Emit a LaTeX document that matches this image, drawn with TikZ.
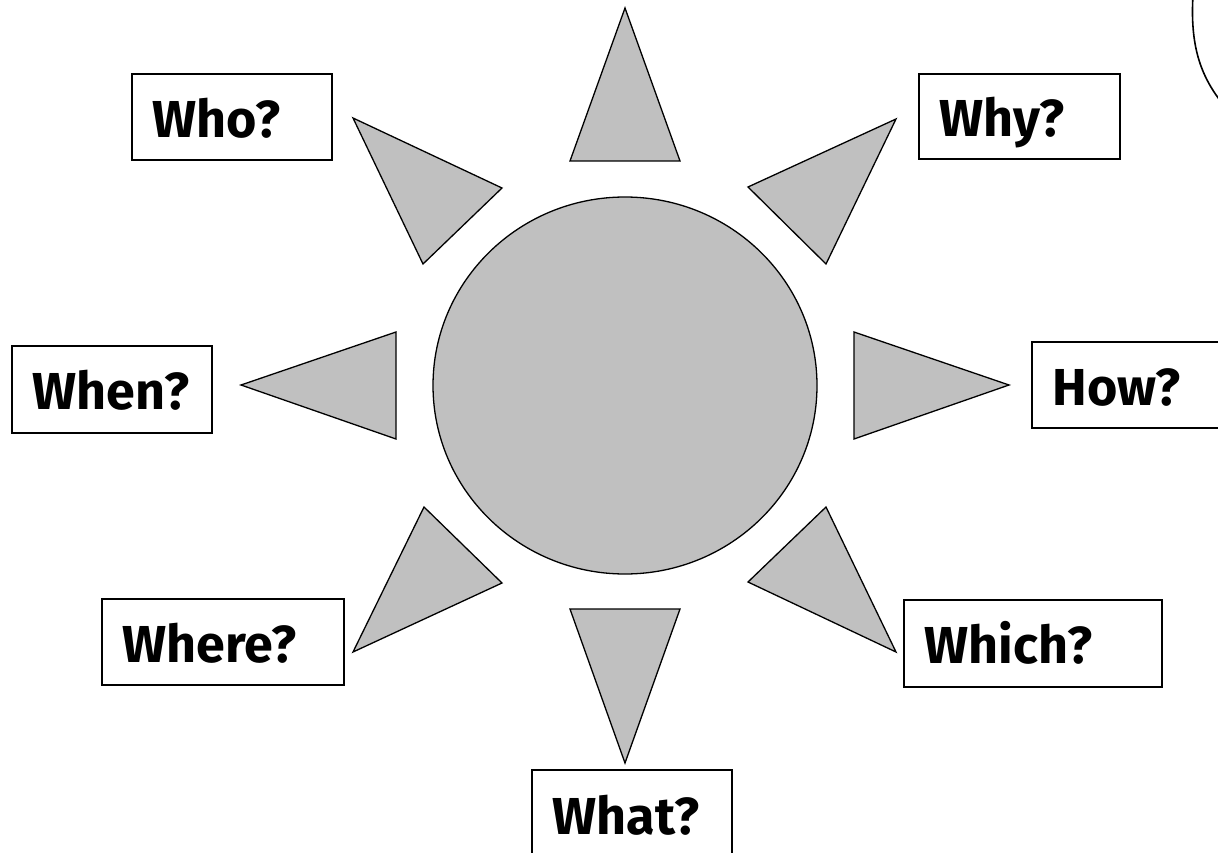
\documentclass[tikz,border=0pt]{standalone}
\usepackage{fontspec}
\newfontfamily\qfont{Fira Sans}
\begin{document}
\begin{tikzpicture}[x=1pt,y=-1pt,
    qbox/.style={draw, line width=1.8pt, anchor=north west, align=left,
        inner xsep=21pt, inner ysep=0pt, text height=41pt, text depth=0pt,
        font=\qfont\bfseries\fontsize{52}{60}\selectfont},
    ray/.style={fill=mygray, draw=black, line width=1.3pt, line join=miter}]
    \definecolor{mygray}{RGB}{192,192,192}

    \useasboundingbox (0,0) rectangle (1218,853);

    % sun and rays
    \filldraw[ray] (625,385.5) ellipse (192pt and 188.5pt);
    \foreach \pa/\pb/\pc in {
        {(625,8)}/{(570,161)}/{(680,161)},
        {(896,119)}/{(748,187)}/{(826,264)},
        {(1009,385)}/{(854,332)}/{(854,439)},
        {(896,652)}/{(826,507)}/{(748,582)},
        {(625,763)}/{(570,609)}/{(680,609)},
        {(353,652)}/{(424,507)}/{(502,583)},
        {(241,385)}/{(396,332)}/{(396,439)},
        {(353,118)}/{(502,188)}/{(423,264)}} {
        \filldraw[ray] \pa -- \pb -- \pc -- cycle;
    }

    % question boxes
    \node[qbox, text width=158pt, minimum height=86pt] (who) at (131,73) {Who?};
    \node[qbox, text width=159pt, minimum height=85pt] (why) at (918,73) {Why?};
    \node[qbox, text width=158pt, minimum height=87pt] (when) at (11,345) {When?};
    \node[qbox, text width=178pt, minimum height=86pt] (how) at (1031,341) {How?};
    \node[qbox, text width=200pt, minimum height=86pt] (where) at (101,598) {Where?};
    \node[qbox, text width=216pt, minimum height=87pt] (which) at (903,599) {Which?};
    \node[qbox, text width=158pt, minimum height=88pt] (what) at (531,769) {What?};

    % edge of the next figure
    \draw[line width=1.6pt] (1193,-5) .. controls (1190,45) and (1200,75) .. (1222,103);
\end{tikzpicture}
\end{document}
